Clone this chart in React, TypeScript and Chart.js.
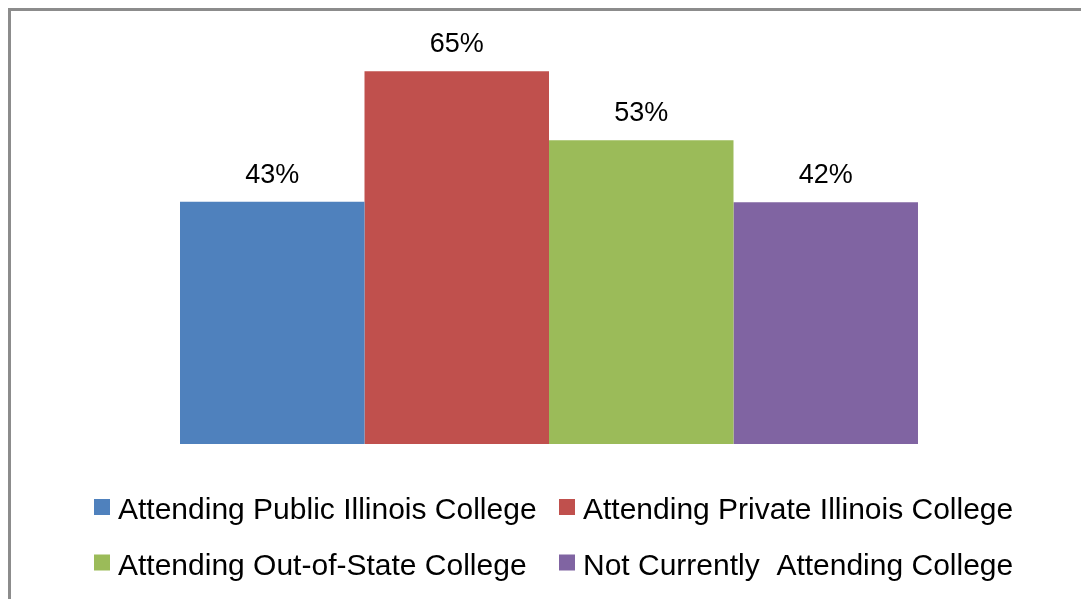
import React, { useEffect, useRef } from "react";
import { Chart, registerables } from "chart.js";

Chart.register(...registerables);

const categories = [""];
const seriesNames = [
  "Attending Public Illinois College",
  "Attending Private Illinois College",
  "Attending Out-of-State College",
  "Not Currently  Attending College",
];
// shares in percent (labels are shown rounded)
const seriesValues = [42.5, 65.4, 53.3, 42.4];
const seriesColors = ["#4F81BD", "#C0504D", "#9BBB59", "#8064A2"];

const FONT = "'Liberation Sans', Arial, sans-serif";

const labelPlugin = {
  id: "valueLabels",
  afterDatasetsDraw(chart: any) {
    const ctx = chart.ctx;
    ctx.save();
    ctx.font = `27px ${FONT}`;
    ctx.fillStyle = "#000";
    ctx.textAlign = "center";
    ctx.textBaseline = "alphabetic";
    chart.data.datasets.forEach((ds: any, i: number) => {
      const meta = chart.getDatasetMeta(i);
      meta.data.forEach((bar: any, j: number) => {
        const v = ds.data[j];
        ctx.fillText(`${Math.round(v)}%`, bar.x, bar.y - 19);
      });
    });
    ctx.restore();
  },
};

// Grid legend: 2 columns x 2 rows, like the original
const legendPlugin = {
  id: "gridLegend",
  afterDraw(chart: any) {
    const ctx = chart.ctx;
    const colX = [83, 548];
    const rowBase = [508, 563.5];
    ctx.save();
    ctx.font = `30px ${FONT}`;
    ctx.textAlign = "left";
    ctx.textBaseline = "alphabetic";
    chart.data.datasets.forEach((ds: any, i: number) => {
      const x = colX[i % 2];
      const base = rowBase[Math.floor(i / 2)];
      ctx.fillStyle = ds.backgroundColor;
      ctx.fillRect(x, base - 20, 16, 16);
      ctx.fillStyle = "#000";
      ctx.fillText(ds.label, x + 24, base);
    });
    ctx.restore();
  },
};

export default function App() {
  const ref = useRef<HTMLCanvasElement>(null);
  useEffect(() => {
    document.documentElement.style.overflow = "hidden";
    document.body.style.overflow = "hidden";
    if (!ref.current) return;
    const chart = new Chart(ref.current, {
      type: "bar",
      data: {
        labels: categories,
        datasets: seriesNames.map((name, i) => ({
          label: name,
          data: [seriesValues[i]],
          backgroundColor: seriesColors[i],
          borderWidth: 0,
          categoryPercentage: 0.6936,
          barPercentage: 1,
        })),
      },
      options: {
        animation: false,
        responsive: false,
        maintainAspectRatio: false,
        layout: { padding: { left: 6, right: 0, top: 34, bottom: 155 } },
        scales: {
          x: { display: false },
          y: { display: false, min: 0, max: 70 },
        },
        plugins: {
          tooltip: { enabled: false },
          legend: { display: false },
        },
      },
      plugins: [labelPlugin, legendPlugin],
    });
    return () => chart.destroy();
  }, []);
  return (
    <div
      style={{
        position: "fixed",
        left: 8,
        top: 8,
        width: 1073,
        height: 591,
        overflow: "hidden",
      }}
    >
      <div
        style={{
          width: 1100,
          height: 620,
          borderTop: "3px solid #8c8c8c",
          borderLeft: "3px solid #8c8c8c",
          background: "#fff",
        }}
      >
        <canvas ref={ref} width={1070} height={588} style={{ display: "block" }} />
      </div>
    </div>
  );
}
